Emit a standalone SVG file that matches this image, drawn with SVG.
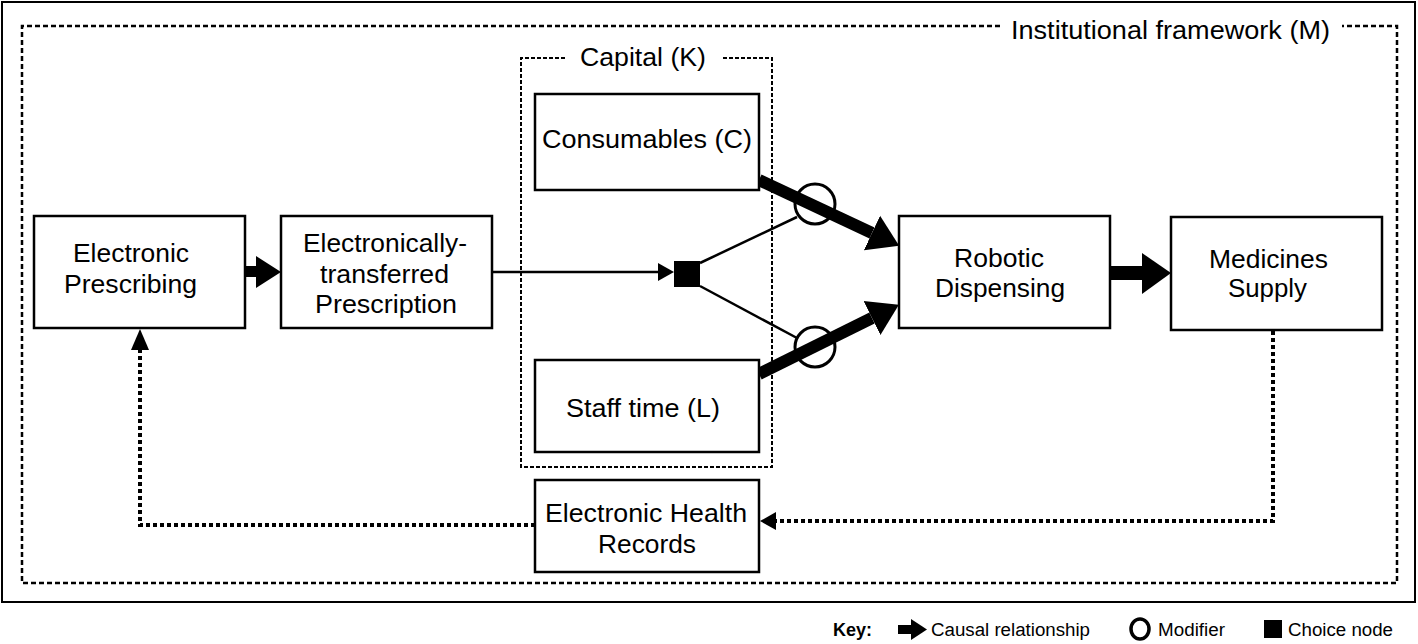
<svg xmlns="http://www.w3.org/2000/svg" width="1418" height="644" viewBox="0 0 1418 644">
<defs>
<style>
.box{fill:#fff;stroke:#000;stroke-width:2.5}
.t{font-family:"Liberation Sans",Arial,sans-serif;font-size:25px;fill:#000;text-anchor:middle}
.k{font-family:"Liberation Sans",Arial,sans-serif;font-size:18px;fill:#000}
.frame{fill:none;stroke:#000;stroke-width:2.5;stroke-dasharray:5 3}
.cap{fill:none;stroke:#000;stroke-width:2;stroke-dasharray:4 2}
.dot{fill:none;stroke:#000;stroke-width:4;stroke-dasharray:4 3}
.thin{fill:none;stroke:#000;stroke-width:2.5}
.thick{fill:none;stroke:#000;stroke-width:12}
</style>
<marker id="big" markerUnits="userSpaceOnUse" markerWidth="32" markerHeight="40" viewBox="0 -20 32 40" refX="0" refY="0" orient="auto"><path d="M0,-19 L30,0 L0,19 z" fill="#000"/></marker>
<marker id="small" markerUnits="userSpaceOnUse" markerWidth="18" markerHeight="20" viewBox="0 -10 18 20" refX="0" refY="0" orient="auto"><path d="M0,-9 L16,0 L0,9 z" fill="#000"/></marker>
</defs>
<rect x="2" y="2" width="1413" height="600" fill="#fff" stroke="#000" stroke-width="2"/>
<g id="institutional-framework">
<path class="frame" d="M1000,26 L22,26 L22,583 L1397,583 L1397,26 L1342,26"/>
<text class="t" x="1170.5" y="39" textLength="319" lengthAdjust="spacingAndGlyphs">Institutional framework (M)</text>
</g>
<g id="capital">
<path class="cap" d="M565,58 L521,58 L521,467 L772,467 L772,58 L722,58"/>
<text class="t" x="643" y="66" textLength="126" lengthAdjust="spacingAndGlyphs">Capital (K)</text>
</g>
<g id="connectors">
<path class="thin" d="M492,272 L658,272" marker-end="url(#small)"/>
<path class="thin" d="M700,263 L797,217"/>
<path class="thin" d="M700,286 L797,338"/>
<path class="thick" d="M759,180 L872,233" marker-end="url(#big)"/>
<path class="thick" d="M759,374 L872,318" marker-end="url(#big)"/>
<path d="M245,266 h12 v11 h-12 z" fill="#000"/>
<path d="M256,256 L281,272 L256,288 z" fill="#000"/>
<path d="M1110,266 h34 v14 h-34 z" fill="#000"/>
<path d="M1142,253 L1171,273 L1142,294 z" fill="#000"/>
<path class="dot" d="M1273,331 L1273,521 L776,521"/>
<path d="M776,512 L760,521 L776,530 z" fill="#000"/>
<path class="dot" d="M535,525 L140,525 L140,348"/>
<path d="M131,350 L140,329 L149,350 z" fill="#000"/>
</g>
<g id="electronic-prescribing">
<rect class="box" x="34" y="216" width="211" height="112"/>
<text class="t" x="131" y="262" textLength="116" lengthAdjust="spacingAndGlyphs">Electronic</text>
<text class="t" x="130.5" y="293" textLength="133" lengthAdjust="spacingAndGlyphs">Prescribing</text>
</g>
<g id="etp">
<rect class="box" x="281" y="216" width="211" height="112"/>
<text class="t" x="385" y="252" textLength="164" lengthAdjust="spacingAndGlyphs">Electronically-</text>
<text class="t" x="384.5" y="283" textLength="129" lengthAdjust="spacingAndGlyphs">transferred</text>
<text class="t" x="386" y="313" textLength="142" lengthAdjust="spacingAndGlyphs">Prescription</text>
</g>
<g id="consumables">
<rect class="box" x="535" y="94" width="224" height="96"/>
<text class="t" x="647" y="148" textLength="210" lengthAdjust="spacingAndGlyphs">Consumables (C)</text>
</g>
<g id="staff-time">
<rect class="box" x="535" y="360" width="224" height="92"/>
<text class="t" x="643" y="417" textLength="154" lengthAdjust="spacingAndGlyphs">Staff time (L)</text>
</g>
<g id="choice-node">
<rect x="674" y="261" width="26" height="26" fill="#000"/>
</g>
<g id="modifier-top">
<circle cx="815" cy="204" r="20" fill="none" stroke="#000" stroke-width="3"/>
</g>
<g id="modifier-bottom">
<circle cx="815" cy="347" r="20" fill="none" stroke="#000" stroke-width="3"/>
</g>
<g id="robotic-dispensing">
<rect class="box" x="899" y="216" width="211" height="112"/>
<text class="t" x="999" y="267" textLength="90" lengthAdjust="spacingAndGlyphs">Robotic</text>
<text class="t" x="1000" y="297" textLength="130" lengthAdjust="spacingAndGlyphs">Dispensing</text>
</g>
<g id="medicines-supply">
<rect class="box" x="1171" y="217" width="211" height="113"/>
<text class="t" x="1268.5" y="268" textLength="119" lengthAdjust="spacingAndGlyphs">Medicines</text>
<text class="t" x="1267.5" y="297" textLength="79" lengthAdjust="spacingAndGlyphs">Supply</text>
</g>
<g id="ehr">
<rect class="box" x="535" y="480" width="224" height="92"/>
<text class="t" x="646" y="522" textLength="202" lengthAdjust="spacingAndGlyphs">Electronic Health</text>
<text class="t" x="647" y="553" textLength="98" lengthAdjust="spacingAndGlyphs">Records</text>
</g>
<g id="key">
<text class="k" x="833" y="636" font-weight="bold" textLength="39" lengthAdjust="spacingAndGlyphs">Key:</text>
<path d="M898,625 h14 v9 h-14 z" fill="#000"/>
<path d="M911,619 L927,629.5 L911,640 z" fill="#000"/>
<text class="k" x="931" y="636" textLength="159" lengthAdjust="spacingAndGlyphs">Causal relationship</text>
<ellipse cx="1140" cy="629" rx="9" ry="10" fill="none" stroke="#000" stroke-width="3.5"/>
<text class="k" x="1158" y="636" textLength="67" lengthAdjust="spacingAndGlyphs">Modifier</text>
<rect x="1264" y="620" width="18" height="18" fill="#000"/>
<text class="k" x="1288" y="636" textLength="105" lengthAdjust="spacingAndGlyphs">Choice node</text>
</g>
</svg>
